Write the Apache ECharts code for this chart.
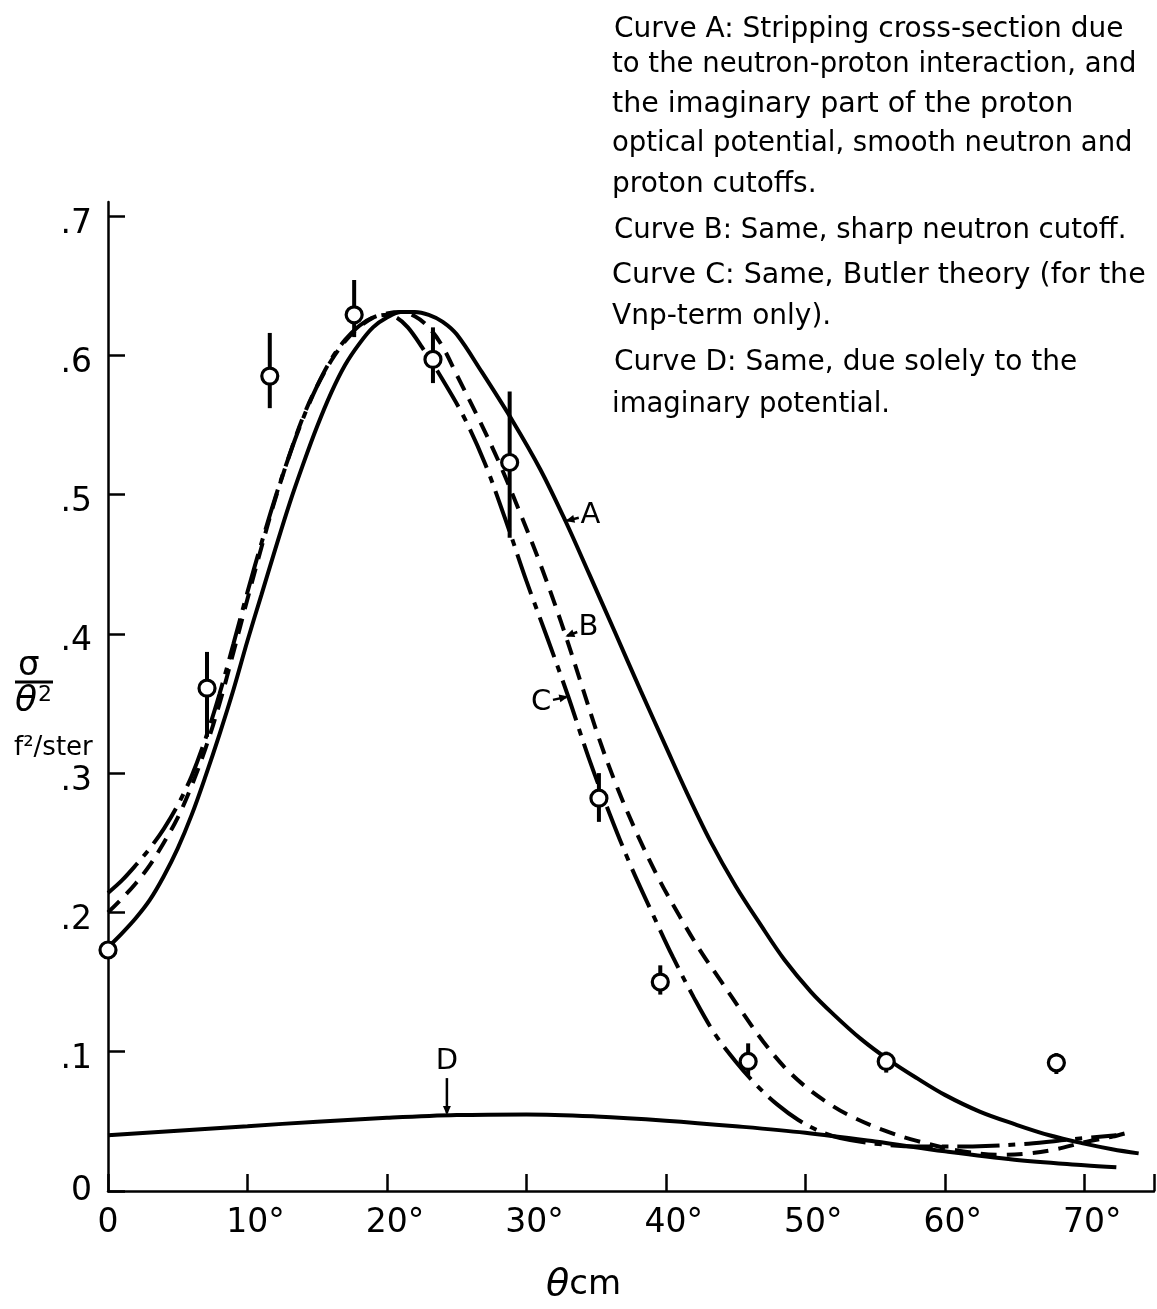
<!DOCTYPE html>
<html>
<head>
<meta charset="utf-8">
<script src="https://cdn.jsdelivr.net/npm/echarts@6/dist/echarts.min.js"></script>
<style>
html,body{margin:0;padding:0;background:#fff;}
#chart{width:1157px;height:1309px;}
</style>
</head>
<body>
<div id="chart"></div>
<script>
// ---- Data (angle in degrees, sigma/theta^2 in f^2/ster) ----
const curveA = [[0,0.175],[1,0.185],[2,0.196],[3,0.209],[4,0.226],[5,0.246],[6,0.270],[7,0.298],[8,0.328],[9,0.360],[10,0.395],[11,0.428],[12,0.461],[13,0.493],[14,0.522],[15,0.549],[16,0.573],[17,0.593],[18,0.608],[19,0.620],[20,0.627],[21,0.631],[22,0.631],[23,0.629],[24,0.624],[25,0.615],[26.8,0.588],[29,0.553],[31,0.518],[32.8,0.481],[34.5,0.443],[36.4,0.400],[38.2,0.359],[40,0.319],[41.5,0.286],[43.2,0.251],[45,0.219],[46.8,0.191],[48.5,0.166],[50.4,0.143],[52,0.127],[54,0.109],[56,0.094],[58,0.081],[60,0.069],[62.5,0.057],[65,0.048],[67.5,0.040],[70,0.034],[72,0.030],[73.9,0.027]];
const curveB = [[0,0.200],[1,0.210],[2,0.221],[3,0.234],[4,0.250],[5,0.268],[6,0.291],[7,0.318],[8,0.350],[9,0.387],[10,0.425],[11,0.462],[12,0.497],[13,0.528],[14,0.556],[15,0.578],[16,0.596],[17,0.610],[18,0.620],[19,0.627],[20,0.630],[21,0.631],[22,0.628],[23,0.620],[24,0.606],[25,0.586],[26.5,0.556],[28,0.524],[29.5,0.488],[31,0.450],[32.5,0.408],[34,0.362],[35.2,0.325],[36.5,0.290],[38,0.255],[39.5,0.224],[41,0.197],[42.5,0.172],[44,0.150],[45.5,0.128],[47,0.107],[48.5,0.089],[50,0.075],[51.5,0.064],[53,0.055],[55.5,0.044],[58,0.036],[61,0.029],[64,0.026],[66,0.027],[68,0.030],[70,0.035],[72,0.039],[73.5,0.043]];
const curveC = [[0,0.214],[1,0.223],[2,0.234],[3,0.246],[4,0.260],[5,0.277],[6,0.298],[7,0.325],[8,0.357],[9,0.393],[10,0.430],[11,0.465],[12,0.498],[13,0.528],[14,0.555],[15,0.578],[16,0.597],[17,0.611],[18,0.621],[19,0.627],[20,0.629],[20.7,0.627],[21.5,0.620],[22.5,0.606],[23.9,0.584],[25.5,0.556],[27,0.523],[28.5,0.482],[30,0.438],[31.5,0.397],[33,0.355],[34.5,0.310],[36,0.270],[37.5,0.233],[39,0.200],[40.5,0.168],[42,0.139],[43.5,0.113],[45,0.093],[46.5,0.076],[48,0.062],[49.5,0.051],[51,0.043],[52.5,0.038],[55,0.034],[58,0.032],[62,0.032],[66,0.034],[69,0.037],[72.3,0.040]];
const curveD = [[0,0.040],[5,0.0432],[10,0.0465],[15,0.0498],[20,0.0525],[25,0.0545],[30,0.0550],[35,0.0535],[40,0.0505],[45,0.0465],[50,0.0418],[55,0.0355],[60,0.0285],[65,0.0225],[70,0.0185],[72.3,0.017]];
// measured points: angle, value, error low, error high
const pointAngles = [0, 7.1, 11.6, 17.65, 23.3, 28.8, 35.2, 39.6, 45.9, 55.8, 68.0];
const pointValues = [0.173, 0.361, 0.585, 0.629, 0.597, 0.523, 0.282, 0.150, 0.093, 0.093, 0.092];
const errLow =      [0.173, 0.326, 0.562, 0.613, 0.580, 0.469, 0.265, 0.141, 0.083, 0.085, 0.084];
const errHigh =     [0.173, 0.387, 0.616, 0.654, 0.620, 0.574, 0.300, 0.162, 0.106, 0.100, 0.099];
const xTicks = [0, 10, 20, 30, 40, 50, 60, 70];
const yTicks = [0, 0.1, 0.2, 0.3, 0.4, 0.5, 0.6, 0.7];
const legendLines = [
  'Curve A: Stripping cross-section due',
  'to the neutron-proton interaction, and',
  'the imaginary part of the proton',
  'optical potential, smooth neutron and',
  'proton cutoffs.',
  'Curve B: Same, sharp neutron cutoff.',
  'Curve C: Same, Butler theory (for the',
  'Vnp-term only).',
  'Curve D: Same, due solely to the',
  'imaginary potential.'
];
const curveLabels = [
  {t:'A', at:[32.8,0.481], off:[25,-6]},
  {t:'B', at:[32.8,0.398], off:[23,-9]},
  {t:'C', at:[33.0,0.355], off:[-27,6]},
  {t:'D', at:[24.3,0.0545], off:[0,-54]}
];

const FONT = 'DejaVu Sans';
const chart = echarts.init(document.getElementById('chart'), null, {renderer:'canvas'});
const lineW = 4;
function curve(name, data, type) {
  return {name, type:'line', data, showSymbol:false, smooth:0.35, clip:false,
    lineStyle:{color:'#000', width:lineW, type:type, cap:'butt', opacity:1}, z:3, silent:true};
}
const errData = pointAngles.map((a,i)=>[a, errLow[i], errHigh[i]]);
const ptData = pointAngles.map((a,i)=>[a, pointValues[i]]);

const legendY = [33, 68, 107, 147, 188, 234, 278, 320, 366, 408];
const legendSize = [28, 27.5, 28.5, 27.5, 28, 27.5, 28.5, 28, 28, 27.5];
const graphics = legendLines.map((t,i)=>({type:'text', left:i===5||i===8||i===0?614:612, top:legendY[i]-17,
  style:{text:t, font:legendSize[i]+'px '+FONT, fill:'#000'}}));
// y axis name
graphics.push({type:'text', left:18, top:649, style:{text:'σ', font:'34px '+FONT, fill:'#000'}});
graphics.push({type:'line', shape:{x1:15,y1:682,x2:53,y2:682}, style:{stroke:'#000', lineWidth:3}});
graphics.push({type:'text', left:15, top:684, style:{text:'θ', font:'italic 36px '+FONT, fill:'#000'}});
graphics.push({type:'text', left:38, top:684, style:{text:'2', font:'22px '+FONT, fill:'#000'}});
graphics.push({type:'text', left:14, top:735, style:{text:'f²/ster', font:'26px '+FONT, fill:'#000'}});
// x axis name
graphics.push({type:'text', left:546, top:1266, style:{rich:{t:{font:'italic 38px '+FONT, fill:'#000'}, c:{font:'34px '+FONT, fill:'#000'}}, text:'{t|θ}{c|cm}'}});

chart.setOption({
  animation:false,
  backgroundColor:'#fff',
  grid:{left:108, right:0, top:202, bottom:118, containLabel:false},
  xAxis:{type:'value', min:0, max:75, interval:10,
    axisLine:{lineStyle:{color:'#000', width:2.5}},
    axisTick:{inside:true, length:17, lineStyle:{color:'#000', width:2.5}},
    splitLine:{show:false},
    axisLabel:{margin:16, color:'#000', fontFamily:FONT,
      formatter:v=> xTicks.indexOf(v)<0 ? '' : (v===0 ? '{z|0}' : '{d|'+v+'°}'),
      rich:{z:{fontSize:33, fontFamily:FONT, color:'#000'}, d:{fontSize:33, fontFamily:FONT, color:'#000', padding:[0,0,0,16]}}}},
  yAxis:{type:'value', min:0, max:0.71, interval:0.1,
    axisLine:{lineStyle:{color:'#000', width:2.5}},
    axisTick:{inside:true, length:17, lineStyle:{color:'#000', width:2.5}},
    splitLine:{show:false},
    axisLabel:{margin:16, color:'#000', showMaxLabel:false,
      formatter:v=>{ const k=Math.round(v*10); if (Math.abs(v-k/10)>1e-6 || yTicks.indexOf(k/10)<0) return ''; return k===0 ? '{z|0}' : '{n|.'+k+'}'; },
      rich:{z:{fontSize:33, fontFamily:FONT, color:'#000'}, n:{fontSize:33, fontFamily:FONT, color:'#000', padding:[16,0,0,0]}}}},
  series:[
    curve('A', curveA, 'solid'),
    curve('B', curveB, [16,10]),
    curve('C', curveC, [42,9,7,9]),
    curve('D', curveD, 'solid'),
    {type:'custom', data:errData, clip:false, z:5, silent:true,
      renderItem:(params, api)=>{
        const p1 = api.coord([api.value(0), api.value(1)]);
        const p2 = api.coord([api.value(0), api.value(2)]);
        return {type:'line', shape:{x1:p1[0],y1:p1[1],x2:p2[0],y2:p2[1]}, style:{stroke:'#000', lineWidth:4}};
      }},
    {type:'scatter', data:ptData, symbol:'circle', symbolSize:16, clip:false, z:6, silent:true,
      itemStyle:{color:'#fff', borderColor:'#000', borderWidth:3.2, opacity:1}}
  ],
  graphic: graphics
});

// curve labels with arrows, anchored through the grid scale
const extra = [];
curveLabels.forEach(l=>{
  const tip = chart.convertToPixel({gridIndex:0}, l.at);
  const lx = tip[0]+l.off[0], ly = tip[1]+l.off[1];
  extra.push({type:'text', x:lx, y:ly, style:{text:l.t, font:'29px '+FONT, fill:'#000', align:'center', verticalAlign:'middle'}});
  const dx = tip[0]-lx, dy = tip[1]-ly, len = Math.hypot(dx,dy);
  const ux = dx/len, uy = dy/len;
  const startDist = l.t==='D' ? 17 : 12;
  const sx = lx+ux*startDist, sy = ly+uy*startDist;
  extra.push({type:'line', shape:{x1:sx,y1:sy,x2:tip[0]-ux*2,y2:tip[1]-uy*2}, style:{stroke:'#000', lineWidth:2.5}});
  const hl = 9, hw = 4;
  const bx = tip[0]-ux*hl, by = tip[1]-uy*hl;
  extra.push({type:'polygon', shape:{points:[[tip[0],tip[1]],[bx-uy*hw,by+ux*hw],[bx+uy*hw,by-ux*hw]]}, style:{fill:'#000'}});
});
chart.setOption({graphic: graphics.concat(extra)});
</script>
</body>
</html>
